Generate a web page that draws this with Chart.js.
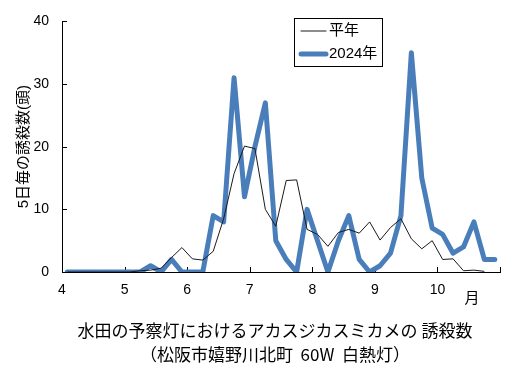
<!DOCTYPE html>
<html>
<head>
<meta charset="utf-8">
<script src="https://cdn.jsdelivr.net/npm/chart.js@4/dist/chart.umd.min.js"></script>
<style>
  html,body{margin:0;padding:0;background:#fff;}
  #wrap{position:relative;width:517px;height:383px;}
</style>
</head>
<body>
<div id="wrap"><canvas id="c" width="517" height="383"></canvas></div>
<script>
// ---- data (5-day periods, Apr 1st pentad .. Oct 6th pentad) ----
const monthLabels = ['4','5','6','7','8','9','10'];
const monthUnit = '月';
const seriesNames = ['平年', '2024年'];
const normalValues = [0,0,0,0,0,0,0,0.2,0.3,0.6,2.3,3.9,2.1,1.9,3.3,8.5,15.7,20.1,19.7,10,7.3,14.6,14.7,6.8,6.0,4.1,6.3,6.8,6.2,8.0,5.1,7.1,8.5,5.3,3.7,5.0,2.0,2.1,0.2,0.3,0.1,null];
const values2024 = [0,0,0,0,0,0,0,0,1,0,2,0,0,0,9,8,31,12,20,27,5,2,0,10,5,0,5,9,2,0,1,3,9,35,15,7,6,3,4,8,2,2];
const yTickValues = [0,10,20,30,40];
const yAxisTitle = '5日毎の誘殺数(頭)';
const titleLines = ['水田の予察灯におけるアカスジカスミカメの 誘殺数', '（松阪市嬉野川北町  60W  白熱灯）'];

const F = '"Liberation Sans","Noto Sans CJK JP",sans-serif';
const toPts = arr => arr.map((v,i)=>({x:i+0.5, y:v}));

const overlay = {
  id:'overlay',
  beforeDatasetsDraw(chart){
    const {ctx, scales:{x,y}} = chart;
    ctx.save();
    ctx.strokeStyle='#000'; ctx.lineWidth=1;
    yTickValues.forEach(v=>{
      const py=Math.round(y.getPixelForValue(v))+0.5;
      ctx.beginPath(); ctx.moveTo(x.left,py); ctx.lineTo(x.left+5,py); ctx.stroke();
    });
    for(let m=0;m<=monthLabels.length;m++){
      const px=Math.round(x.getPixelForValue(m*6))+0.5;
      ctx.beginPath(); ctx.moveTo(px,y.bottom); ctx.lineTo(px,y.bottom-5); ctx.stroke();
    }
    ctx.restore();
  },
  afterDraw(chart){
    const {ctx} = chart;
    ctx.save();
    ctx.fillStyle='#000';
    ctx.font='15px '+F; ctx.textAlign='center'; ctx.textBaseline='middle';
    ctx.fillText(monthUnit, 472, 299);
    ctx.font='17px "Noto Sans CJK JP",'+F;
    ctx.fillText(titleLines[0], 275, 331);
    ctx.fillText(titleLines[1], 275, 355);
    ctx.strokeStyle='#000'; ctx.lineWidth=1;
    ctx.strokeRect(294.5,18.5,88,48);
    const ds = chart.data.datasets;
    const rows=[31,54];
    ds.forEach((d,i)=>{
      ctx.strokeStyle=d.borderColor; ctx.lineWidth=d.borderWidth; ctx.lineCap='round';
      ctx.beginPath(); ctx.moveTo(301,rows[i]); ctx.lineTo(326,rows[i]); ctx.stroke();
      ctx.fillStyle='#000'; ctx.font='15px '+F; ctx.textAlign='left';
      ctx.fillText(d.label, 329, rows[i]);
    });
    ctx.restore();
  }
};

new Chart(document.getElementById('c'), {
  type:'line',
  data:{
    datasets:[
      {label:seriesNames[0], data:toPts(normalValues), borderColor:'#1a1a1a', borderWidth:1, pointRadius:0, tension:0, spanGaps:false},
      {label:seriesNames[1], data:toPts(values2024), borderColor:'#4a7ebb', borderWidth:5, pointRadius:0, tension:0, borderJoinStyle:'round', borderCapStyle:'round'}
    ]
  },
  options:{
    responsive:false, animation:false, devicePixelRatio:1,
    layout:{autoPadding:false, padding:{left:0,right:17,top:16,bottom:0}},
    plugins:{legend:{display:false}, tooltip:{enabled:false}, title:{display:false}},
    scales:{
      x:{
        type:'linear', min:0, max:42,
        afterFit:s=>{s.height=111;},
        grid:{display:false, drawTicks:false},
        border:{display:true,color:'#000',width:1},
        ticks:{stepSize:6, autoSkip:false, maxRotation:0, padding:10, color:'#000', font:{family:F,size:14},
          callback:v=> (monthLabels[v/6] ?? '')}
      },
      y:{
        min:0, max:40,
        afterFit:s=>{s.width=62;},
        grid:{display:false, drawTicks:false},
        border:{display:true,color:'#000',width:1},
        ticks:{stepSize:10, padding:13, color:'#000', font:{family:F,size:14}},
        title:{display:true, text:yAxisTitle, color:'#000', font:{family:F,size:15}, padding:{top:15,bottom:0}}
      }
    }
  },
  plugins:[overlay]
});
</script>
</body>
</html>
